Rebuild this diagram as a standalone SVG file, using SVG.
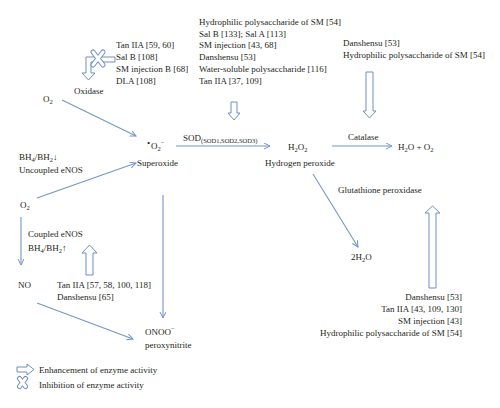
<svg xmlns="http://www.w3.org/2000/svg" width="500" height="408" viewBox="0 0 500 408">
<defs>
<marker id="ah" markerWidth="8" markerHeight="8" refX="6" refY="3" orient="auto" markerUnits="userSpaceOnUse">
<path d="M0,0 L6,3 L0,6" fill="none" stroke="#7396c8" stroke-width="1"/>
</marker>
</defs>
<style>
text{font-family:"Liberation Serif","Times New Roman",serif;font-size:9px;fill:#231f20}
.ln{stroke:#7396c8;stroke-width:1.1;fill:none;marker-end:url(#ah)}
.ha{fill:#fff;stroke:#6f8fc0;stroke-width:1}
.sub{font-size:6.5px}
.xo{stroke:#6f8fc0;stroke-width:5;stroke-linecap:round;fill:none}
.xi{stroke:#fff;stroke-width:3;stroke-linecap:round;fill:none}
</style>
<rect width="500" height="408" fill="#fff"/>

<g id="connectors">
<line class="ln" x1="62" y1="100" x2="136" y2="136"/>
<line class="ln" x1="37" y1="198" x2="136" y2="163"/>
<line class="ln" x1="176" y1="146" x2="270" y2="146"/>
<line class="ln" x1="332" y1="146" x2="392" y2="146"/>
<line class="ln" x1="313" y1="174" x2="358" y2="247"/>
<line class="ln" x1="21" y1="217" x2="21" y2="265"/>
<line class="ln" x1="163" y1="195" x2="163" y2="318"/>
<line class="ln" x1="37" y1="303" x2="133" y2="339"/>
</g>

<g id="inhibition-oxidase">
<path class="ha" d="M115,57 L86,57 L86,73 L82,73 L88.5,80 L95,73 L91,73 L91,62 L115,62 Z"/>
<g transform="translate(98,58.5)">
<path class="xo" d="M-5,-6.5 L5,6.5 M5,-6.5 L-5,6.5"/>
<path class="xi" d="M-5,-6.5 L5,6.5 M5,-6.5 L-5,6.5"/>
</g>
<text x="116" y="48">Tan IIA [59, 60]</text>
<text x="116" y="60">Sal B [108]</text>
<text x="116" y="72">SM injection B [68]</text>
<text x="116" y="84">DLA [108]</text>
<text x="74" y="94">Oxidase</text>
</g>

<g id="o2-top"><text x="43" y="102">O<tspan class="sub" dy="2">2</tspan></text></g>

<g id="superoxide">
<text x="147" y="146" font-size="7">•</text>
<text x="151" y="149">O<tspan class="sub" dy="2">2</tspan><tspan class="sub" dy="-6">−</tspan></text>
<text x="137" y="166">Superoxide</text>
</g>

<g id="sod">
<text x="183" y="141">SOD<tspan class="sub" dy="2">(SOD1,SOD2,SOD3)</tspan></text>
</g>

<g id="sod-enhancers">
<text x="199" y="25">Hydrophilic polysaccharide of SM [54]</text>
<text x="199" y="37">Sal B [133]; Sal A [113]</text>
<text x="199" y="48">SM injection [43, 68]</text>
<text x="199" y="60">Danshensu [53]</text>
<text x="199" y="72">Water-soluble polysaccharide [116]</text>
<text x="199" y="84">Tan IIA [37, 109]</text>
<path class="ha" d="M231,102 L237,102 L237,113 L240,113 L234,120 L228,113 L231,113 Z"/>
</g>

<g id="h2o2">
<text x="288" y="150">H<tspan class="sub" dy="2">2</tspan><tspan dy="-2">O</tspan><tspan class="sub" dy="2">2</tspan></text>
<text x="265" y="166">Hydrogen peroxide</text>
</g>

<g id="catalase-enhancers">
<text x="343" y="46">Danshensu [53]</text>
<text x="343" y="58">Hydrophilic polysaccharide of SM [54]</text>
<path class="ha" d="M366,72 L373,72 L373,111 L376,111 L369.5,118 L363,111 L366,111 Z"/>
</g>

<g id="catalase"><text x="348" y="140">Catalase</text></g>

<g id="h2o-o2">
<text x="398" y="150">H<tspan class="sub" dy="2">2</tspan><tspan dy="-2">O + O</tspan><tspan class="sub" dy="2">2</tspan></text>
</g>

<g id="gpx"><text x="338" y="193">Glutathione peroxidase</text></g>

<g id="h2o"><text x="351" y="260">2H<tspan class="sub" dy="2">2</tspan><tspan dy="-2">O</tspan></text></g>

<g id="gpx-enhancers">
<path class="ha" d="M429,288 L436,288 L436,213 L440,213 L432.5,206 L425,213 L429,213 Z"/>
<text x="462" y="300" text-anchor="end">Danshensu [53]</text>
<text x="462" y="312" text-anchor="end">Tan IIA [43, 109, 130]</text>
<text x="462" y="324" text-anchor="end">SM injection [43]</text>
<text x="462" y="336" text-anchor="end">Hydrophilic polysaccharide of SM [54]</text>
</g>

<g id="uncoupled">
<text x="19" y="160">BH<tspan class="sub" dy="2">4</tspan><tspan dy="-2">/BH</tspan><tspan class="sub" dy="2">2</tspan><tspan dy="-2">↓</tspan></text>
<text x="19" y="173">Uncoupled eNOS</text>
</g>

<g id="o2-left"><text x="20" y="208">O<tspan class="sub" dy="2">2</tspan></text></g>

<g id="coupled">
<text x="28" y="237">Coupled eNOS</text>
<text x="28" y="251">BH<tspan class="sub" dy="2">4</tspan><tspan dy="-2">/BH</tspan><tspan class="sub" dy="2">2</tspan><tspan dy="-2">↑</tspan></text>
</g>

<g id="enos-enhancers">
<path class="ha" d="M86,275 L93,275 L93,253 L97,253 L89.5,245 L82,253 L86,253 Z"/>
<text x="57" y="288">Tan IIA [57, 58, 100, 118]</text>
<text x="57" y="300">Danshensu [65]</text>
</g>

<g id="no"><text x="18" y="288">NO</text></g>

<g id="onoo">
<text x="145" y="335">ONOO<tspan class="sub" dy="-4">−</tspan></text>
<text x="145" y="348">peroxynitrite</text>
</g>

<g id="legend">
<path class="ha" d="M17,367 L27,367 L27,364 L34,369.5 L27,375 L27,372 L17,372 Z"/>
<text x="39" y="373">Enhancement of enzyme activity</text>
<g transform="translate(22.5,382.5)">
<path class="xo" d="M-3,-4 L3,4 M3,-4 L-3,4"/>
<path class="xi" d="M-3,-4 L3,4 M3,-4 L-3,4"/>
</g>
<text x="39" y="388">Inhibition of enzyme activity</text>
</g>
</svg>
